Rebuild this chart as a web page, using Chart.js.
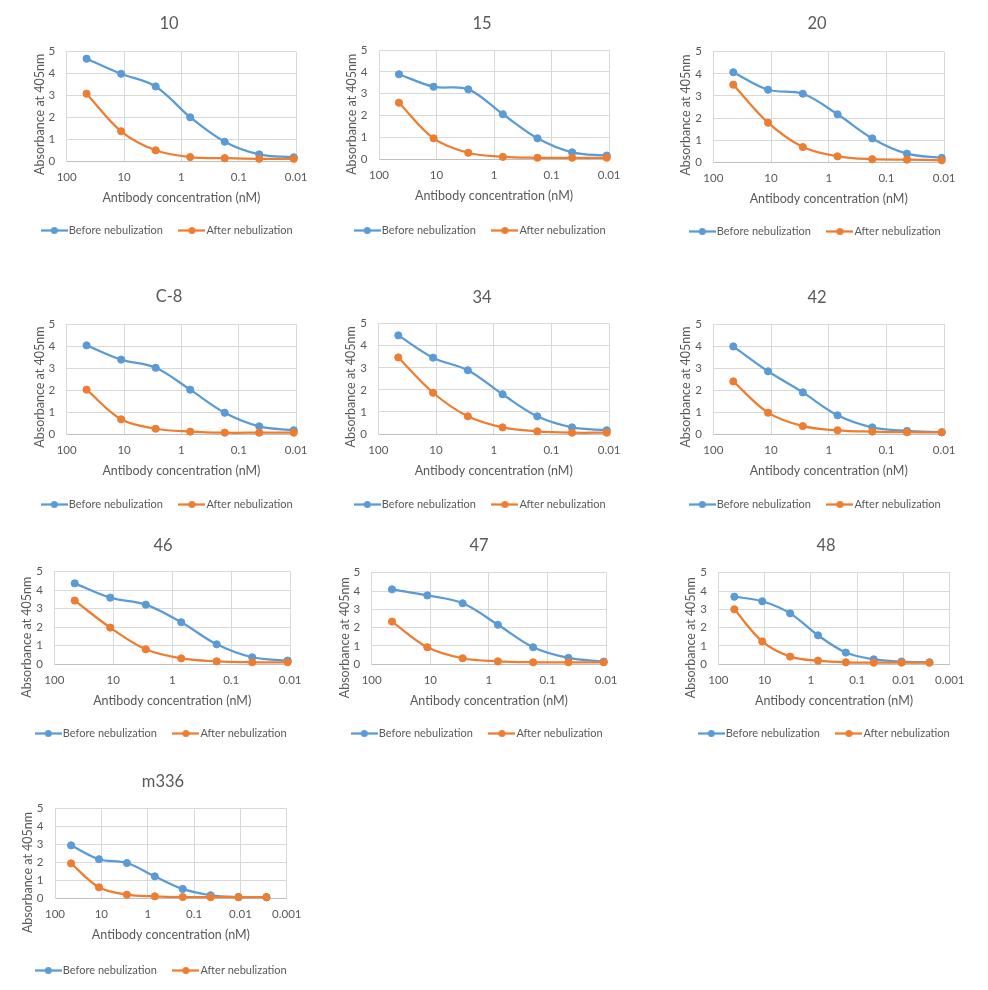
<!DOCTYPE html>
<html lang="en">
<head>
<meta charset="UTF-8" />
<title>Antibody ELISA before and after nebulization</title>
<script src="https://cdn.jsdelivr.net/npm/chart.js@4.4.0/dist/chart.umd.min.js"></script>
<style>
    body { margin: 0; background: #ffffff; }
    #page { position: relative; width: 988px; height: 990px; overflow: hidden; }
    .panel { position: absolute; }
</style>
</head>
<body>
<div id="page"></div>
<script>
// antibody concentration (nM), 4-fold dilution series
const concentrations = [45, 11.25, 2.81, 0.703, 0.176, 0.044, 0.011, 0.00275];
const antibodies = ['10', '15', '20', 'C-8', '34', '42', '46', '47', '48', 'm336'];
const xTicks = [100, 10, 1, 0.1, 0.01];
const xTicksLong = [100, 10, 1, 0.1, 0.01, 0.001];
const yTicks = [0, 1, 2, 3, 4, 5];
const seriesNames = ['Before nebulization', 'After nebulization'];

// absorbance at 405nm
const before10 = [4.68, 3.99, 3.41, 2.00, 0.88, 0.30, 0.17];
const after10 = [3.08, 1.36, 0.49, 0.18, 0.13, 0.10, 0.10];
const before15 = [3.89, 3.32, 3.20, 2.06, 0.96, 0.32, 0.17];
const after15 = [2.59, 0.96, 0.30, 0.11, 0.07, 0.07, 0.07];
const before20 = [4.07, 3.28, 3.10, 2.17, 1.08, 0.39, 0.20];
const after20 = [3.51, 1.79, 0.69, 0.27, 0.14, 0.12, 0.09];
const beforeC8 = [4.04, 3.39, 3.02, 2.02, 0.97, 0.35, 0.17];
const afterC8 = [2.02, 0.67, 0.24, 0.11, 0.06, 0.06, 0.06];
const before34 = [4.47, 3.46, 2.89, 1.80, 0.80, 0.30, 0.17];
const after34 = [3.47, 1.87, 0.80, 0.30, 0.12, 0.06, 0.06];
const before42 = [3.98, 2.85, 1.89, 0.85, 0.30, 0.14, 0.08];
const after42 = [2.39, 0.97, 0.36, 0.17, 0.11, 0.08, 0.08];
const before46 = [4.37, 3.60, 3.22, 2.27, 1.08, 0.38, 0.20];
const after46 = [3.44, 1.98, 0.81, 0.32, 0.16, 0.11, 0.11];
const before47 = [4.09, 3.76, 3.33, 2.16, 0.93, 0.35, 0.15];
const after47 = [2.33, 0.93, 0.33, 0.16, 0.11, 0.11, 0.11];
const before48 = [3.69, 3.44, 2.78, 1.58, 0.64, 0.27, 0.15, 0.11];
const after48 = [3.00, 1.25, 0.42, 0.20, 0.11, 0.09, 0.09, 0.09];
const beforeM336 = [2.94, 2.17, 1.96, 1.22, 0.52, 0.17, 0.07, 0.06];
const afterM336 = [1.94, 0.61, 0.20, 0.11, 0.07, 0.06, 0.06, 0.06];

const beforeSeries = [before10, before15, before20, beforeC8, before34, before42, before46, before47, before48, beforeM336];
const afterSeries = [after10, after15, after20, afterC8, after34, after42, after46, after47, after48, afterM336];

// page geometry per panel: titleX, titleY, plotLeft, plotRight, plotTop, plotBottom, legendY, yTitleCenterY
const layout = [
    [168.5, 24, 66.7, 297.7, 51.7, 161, 230.7, 114],
    [481.5, 23.5, 379, 612.7, 50, 159.3, 230, 114],
    [816.5, 24, 713.3, 946, 51.7, 162.3, 231.7, 115],
    [168.5, 297, 66.7, 299, 324.3, 434, 504, 387.5],
    [481.5, 297.3, 378.3, 611.7, 323.7, 434, 504, 387.5],
    [816.5, 297.3, 713.3, 946, 324, 434, 504, 387.5],
    [163, 546, 54.3, 297.7, 571.7, 664.3, 733.3, 637.5],
    [479, 546, 371.7, 614.3, 572.7, 664.3, 733.3, 637.5],
    [826, 546, 718.3, 961.7, 572.7, 664.3, 733.3, 637.5],
    [163, 781.7, 55, 295, 808.3, 898.3, 970, 872]
];

const BLUE = '#5b9bd5';
const ORANGE = '#ed7d31';
const TEXT = '#595959';
const GRID = '#d9d9d9';
const FONT = 'Lato, "Open Sans", sans-serif';
const AXIS_TITLE_SIZE = 12.5;
const BOX_HALF = 148;

// excel-like legend marker: short line with a dot
function legendIcon(color) {
    const c = document.createElement('canvas');
    c.width = 27;
    c.height = 9;
    const g = c.getContext('2d');
    g.strokeStyle = color;
    g.lineWidth = 2.25;
    g.beginPath();
    g.moveTo(0, 4.5);
    g.lineTo(27, 4.5);
    g.stroke();
    g.fillStyle = color;
    g.beginPath();
    g.arc(13.5, 4.5, 3.5, 0, Math.PI * 2);
    g.fill();
    return c;
}
const icons = [legendIcon(BLUE), legendIcon(ORANGE)];

// excel centres the vertical axis title a bit below the plot centre;
// pad the end of the string so the visible part slides down
const measureCtx = document.createElement('canvas').getContext('2d');
measureCtx.font = AXIS_TITLE_SIZE + 'px ' + FONT;
const nbspWidth = measureCtx.measureText('\u00a0').width || 3;
function yTitleText(shift) {
    const n = Math.max(0, Math.round(2 * shift / nbspWidth));
    return 'Absorbance at 405nm' + '\u00a0'.repeat(n);
}

const page = document.getElementById('page');

antibodies.forEach((name, i) => {
    const [tx, ty, pl, pr, pt, pb, ly, yty] = layout[i];
    const left = Math.round(tx - BOX_HALF);
    const top = Math.round(ty - 22);
    const width = 2 * BOX_HALF;
    const height = Math.round(ly + 19.5 - top);
    const legendTop = top + height - 4 - 41; // page coords

    const wrap = document.createElement('div');
    wrap.className = 'panel';
    wrap.style.left = left + 'px';
    wrap.style.top = top + 'px';
    const canvas = document.createElement('canvas');
    canvas.width = width;
    canvas.height = height;
    wrap.appendChild(canvas);
    page.appendChild(wrap);

    const before = beforeSeries[i];
    const after = afterSeries[i];
    const ticks = before.length > 7 ? xTicksLong : xTicks;
    const toPoints = vals => vals.map((v, k) => ({ x: concentrations[k], y: v }));

    const lineStyle = color => ({
        borderColor: color,
        backgroundColor: color,
        pointBackgroundColor: color,
        pointBorderColor: color,
        borderWidth: 2.25,
        pointRadius: 3.6,
        pointBorderWidth: 1,
        tension: 0.35,
        clip: false
    });

    new Chart(canvas, {
        type: 'line',
        data: {
            datasets: [
                { label: seriesNames[0], data: toPoints(before), order: 1, ...lineStyle(BLUE) },
                { label: seriesNames[1], data: toPoints(after), order: 0, ...lineStyle(ORANGE) }
            ]
        },
        options: {
            responsive: false,
            animation: false,
            layout: { padding: { left: 0, right: 0, top: 0, bottom: 4 } },
            plugins: {
                title: {
                    display: true,
                    text: name,
                    color: TEXT,
                    font: { family: FONT, size: 16.5, weight: 'normal' },
                    padding: { top: ty - top - 9.9, bottom: pt - ty - 9.9 }
                },
                legend: {
                    position: 'bottom',
                    labels: {
                        usePointStyle: true,
                        pointStyleWidth: 18,
                        padding: 20,
                        color: TEXT,
                        font: { family: FONT, size: 11 },
                        generateLabels: chart => Chart.defaults.plugins.legend.labels.generateLabels(chart)
                            .map(item => ({ ...item, pointStyle: icons[item.datasetIndex] })),
                        sort: (a, b) => a.datasetIndex - b.datasetIndex
                    }
                },
                tooltip: { enabled: false }
            },
            scales: {
                x: {
                    type: 'logarithmic',
                    reverse: true,
                    min: ticks[ticks.length - 1],
                    max: ticks[0],
                    afterBuildTicks: s => { s.ticks = ticks.map(v => ({ value: v })); },
                    afterFit: s => { s.height = legendTop - pb; },
                    grid: { color: GRID, drawTicks: false },
                    border: { color: '#bfbfbf' },
                    ticks: {
                        color: TEXT,
                        font: { family: FONT, size: 11.5 },
                        padding: 9.5,
                        maxRotation: 0,
                        autoSkip: false,
                        callback: v => String(v)
                    },
                    title: {
                        display: true,
                        text: 'Antibody concentration (nM)',
                        color: TEXT,
                        font: { family: FONT, size: AXIS_TITLE_SIZE },
                        padding: { top: 0, bottom: legendTop - (pb + 36.5) - 7.5 }
                    }
                },
                y: {
                    min: 0,
                    max: 5,
                    afterBuildTicks: s => { s.ticks = yTicks.map(v => ({ value: v })); },
                    afterFit: s => { s.width = pl - left; },
                    grid: { color: GRID, drawTicks: false },
                    border: { color: GRID },
                    ticks: { color: TEXT, font: { family: FONT, size: 11.5 }, padding: 11.5 },
                    title: {
                        display: true,
                        text: yTitleText(yty - (pt + pb) / 2),
                        color: TEXT,
                        font: { family: FONT, size: AXIS_TITLE_SIZE },
                        padding: { top: (pl - 27) - 7.5 - left, bottom: 0 }
                    }
                },
                // empty spacer on the right so the legend/title box can be wider than the plot
                y2: {
                    type: 'linear',
                    position: 'right',
                    display: true,
                    grid: { display: false },
                    border: { display: false },
                    ticks: { display: false },
                    afterFit: s => { s.width = left + width - pr; }
                }
            }
        }
    });
});
</script>
</body>
</html>
